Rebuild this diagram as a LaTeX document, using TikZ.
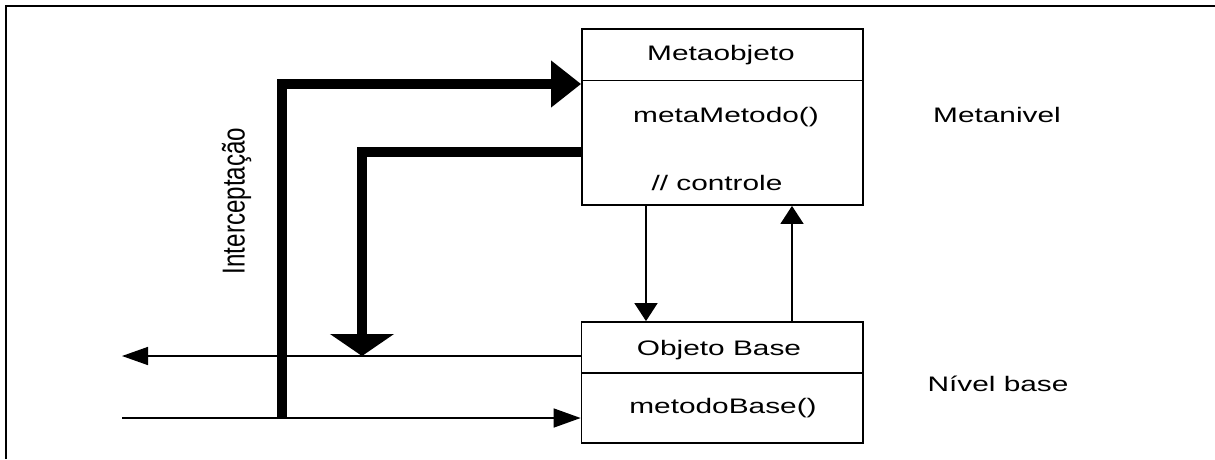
\documentclass[tikz,border=0pt]{standalone}
\usepackage{fontspec}
\setmainfont{Liberation Sans}
\usetikzlibrary{arrows.meta}
\newcommand{\hstretch}[1]{\scalebox{1.42}[1]{\fontsize{21pt}{24pt}\selectfont #1}}
\begin{document}
\begin{tikzpicture}[x=1pt,y=-1pt,
  box/.style={draw,line width=1.8pt,inner sep=0pt},
  lbl/.style={inner sep=0pt,anchor=base},
  thinline/.style={line width=1.5pt},
  thickline/.style={line width=9.5pt,line join=miter},
]
\useasboundingbox (0,0) rectangle (1215,459);
% outer frame (only top and left visible)
\draw[line width=2pt] (6,459) -- (6,6) -- (1215,6);

% boxes
\node[box,minimum width=281pt,minimum height=176pt] (meta) at (722.5,117) {};
\draw[line width=1.8pt] (582,80.5) -- (863,80.5);
\node[box,minimum width=281.5pt,minimum height=121pt] (base) at (722.3,382.5) {};
\draw[line width=1.8pt] (581.5,373) -- (863,373);

% box texts
\node[lbl] (t1) at (721,60.5) {\hstretch{Metaobjeto}};
\node[lbl] (t2) at (726,122) {\hstretch{metaMetodo()}};
\node[lbl] (t3) at (717,190) {\hstretch{// controle}};
\node[lbl] (t4) at (719,355) {\hstretch{Objeto Base}};
\node[lbl] (t5) at (723,413) {\hstretch{metodoBase()}};

% side labels
\node[lbl] (mn) at (997,122) {\hstretch{Metanivel}};
\node[lbl] (nb) at (998,391) {\hstretch{Nível base}};
\node[rotate=90,inner sep=0pt] (icp) at (236.5,201) {\scalebox{1.05}[1.38]{\fontsize{23pt}{26pt}\selectfont Interceptação}};

% helper coordinates
\coordinate (inL) at (122,418);
\coordinate (outL) at (122,356);
\coordinate (ic) at (282,418);
\coordinate (y84) at (0,84);
\coordinate (y152) at (0,152);
\coordinate (x362) at (362,0);
\coordinate (x646) at (646,0);
\coordinate (x792) at (792,0);

% thin base-level lines
\draw[thinline,-{Triangle[length=27pt,width=19pt]}] (inL) -- (base.west |- inL);
\draw[thinline,-{Triangle[length=26pt,width=18pt]}] (base.west |- outL) -- (outL);

% thick interception arrows
\draw[thickline,-{Triangle[length=30pt,width=45pt]}] (ic) |- (meta.west |- y84);
\draw[thickline,-{Triangle[length=22pt,width=63pt]}] (meta.west |- y152) -| (x362 |- outL);

% vertical thin arrows between levels
\draw[thinline,-{Triangle[length=18pt,width=23pt]}] (meta.south -| x646) -- (base.north -| x646);
\draw[thinline,-{Triangle[length=18pt,width=23pt]}] (base.north -| x792) -- (meta.south -| x792);
\end{tikzpicture}
\end{document}
